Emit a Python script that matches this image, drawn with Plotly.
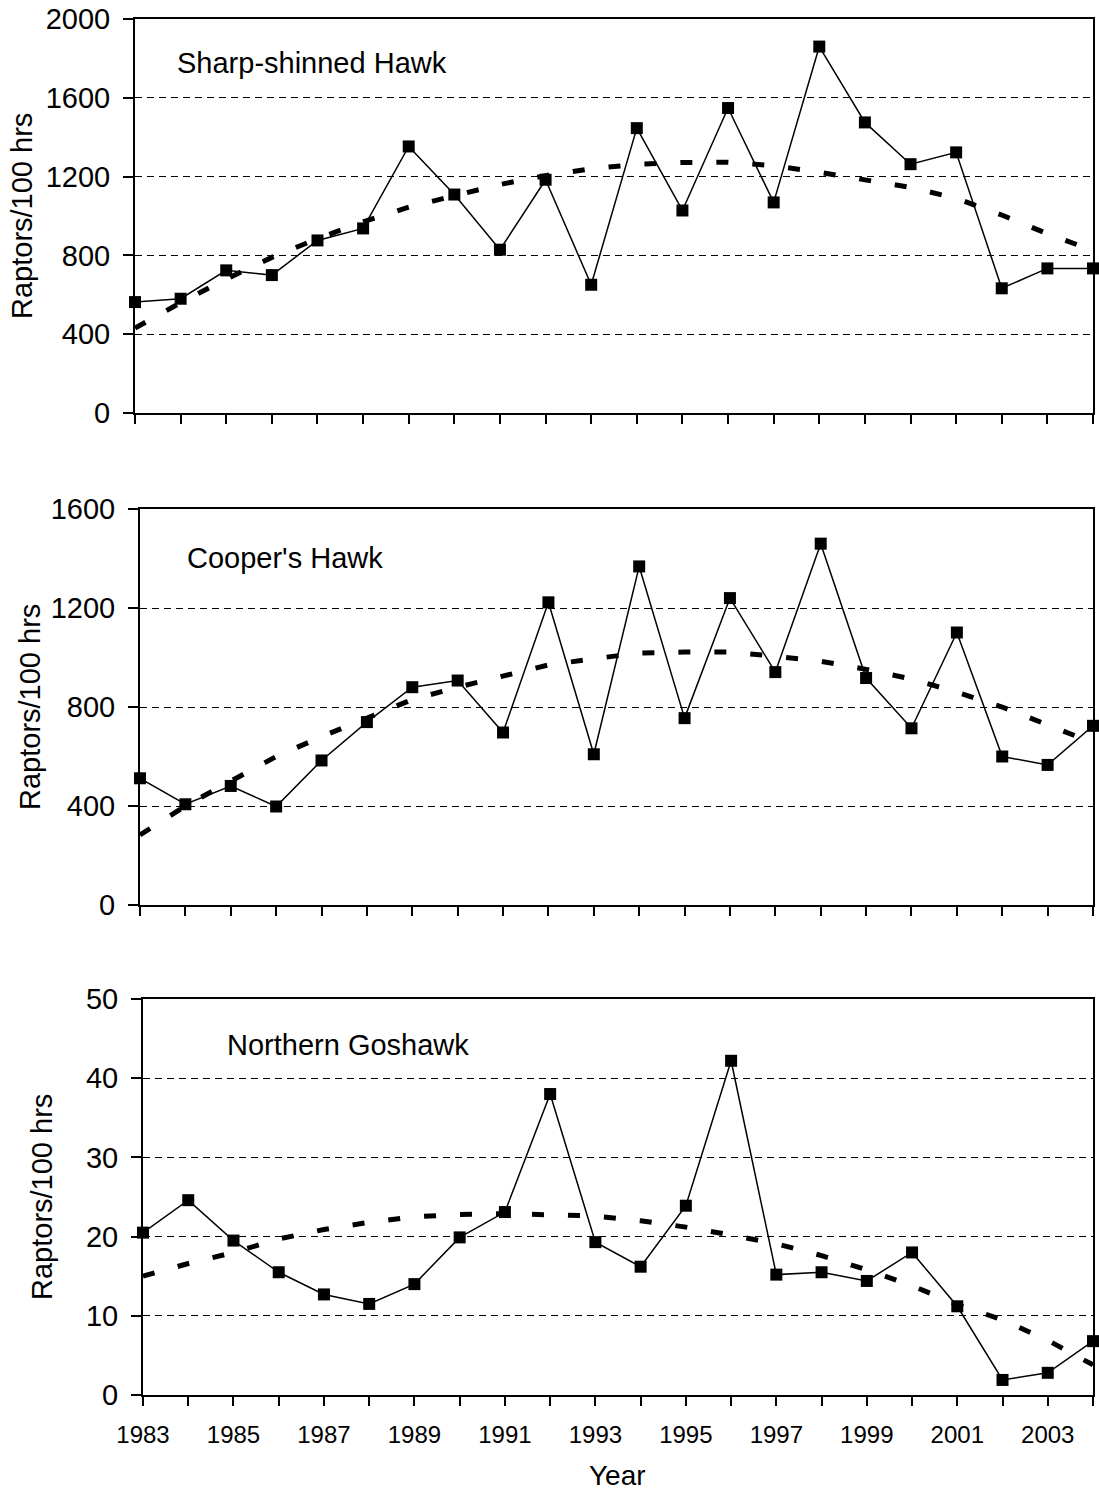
import plotly.graph_objects as go

years = list(range(1983, 2005))

sharp_obs = [563, 580, 724, 700, 876, 937, 1353, 1109, 829, 1184,
             651, 1446, 1028, 1548, 1069, 1860, 1475, 1263, 1323, 633, 734, 734]
sharp_trend = [431, 560, 680, 790, 885, 970, 1045, 1105, 1160, 1205, 1240,
               1262, 1272, 1273, 1255, 1222, 1185, 1145, 1090, 1005, 910, 825]

coop_obs = [512, 407, 481, 398, 584, 739, 880, 907, 697, 1223,
            609, 1368, 755, 1240, 941, 1460, 917, 714, 1101, 600, 566, 724]
coop_trend = [283, 400, 500, 600, 680, 755, 830, 880, 925, 970, 995,
              1018, 1022, 1022, 1005, 985, 952, 913, 860, 800, 728, 655]

gos_obs = [20.5, 24.6, 19.5, 15.5, 12.7, 11.5, 14.0, 19.9, 23.1, 38.0,
           19.3, 16.2, 23.9, 42.2, 15.2, 15.5, 14.4, 18.0, 11.2, 1.9, 2.8, 6.8]
gos_trend = [15.0, 16.6, 18.0, 19.7, 20.9, 21.8, 22.5, 22.8, 22.9, 22.8, 22.6,
             22.0, 21.2, 20.2, 19.1, 17.6, 15.8, 13.8, 11.4, 9.5, 6.9, 3.8]

species = ["Sharp-shinned Hawk", "Cooper's Hawk", "Northern Goshawk"]
y_max = [2000, 1600, 50]
y_step = [400, 400, 10]
y_title = "Raptors/100 hrs"
x_title = "Year"

W, H = 1099, 1494
FONT = "Liberation Sans, Arial, sans-serif"

# pixel boxes (left, right, top, bottom)
boxes = [(135, 1093, 19, 413), (140, 1093, 509, 905), (143, 1093, 999, 1395)]
label_pos = [(175, 63), (185, 558), (225, 1045)]
ytitle_x = [22, 30, 42]

fig = go.Figure()
obs_all = [sharp_obs, coop_obs, gos_obs]
trend_all = [sharp_trend, coop_trend, gos_trend]

for i in range(3):
    xa = "x" if i == 0 else f"x{i+1}"
    ya = "y" if i == 0 else f"y{i+1}"
    fig.add_trace(go.Scatter(
        x=years, y=trend_all[i], mode="lines", xaxis=xa, yaxis=ya,
        line=dict(color="black", width=5, dash="12px,24px"),
        showlegend=False, cliponaxis=False, hoverinfo="skip"))
    fig.add_trace(go.Scatter(
        x=years, y=obs_all[i], mode="lines+markers", xaxis=xa, yaxis=ya,
        line=dict(color="black", width=1.5),
        marker=dict(symbol="square", size=12, color="black"),
        showlegend=False, cliponaxis=False))

layout = dict(
    width=W, height=H, margin=dict(l=0, r=0, t=0, b=0, autoexpand=False),
    paper_bgcolor="white", plot_bgcolor="white",
    font=dict(family=FONT, color="black"),
    annotations=[],
)

for i in range(3):
    l, r, t, b = boxes[i]
    xkey = "xaxis" if i == 0 else f"xaxis{i+1}"
    ykey = "yaxis" if i == 0 else f"yaxis{i+1}"
    yanchor_name = "y" if i == 0 else f"y{i+1}"
    xanchor_name = "x" if i == 0 else f"x{i+1}"
    ticktext = [str(yv) if (yv - 1983) % 2 == 0 else "" for yv in years]
    layout[xkey] = dict(
        domain=[l / W, r / W], anchor=yanchor_name, automargin=False,
        range=[1983, 2004], tickmode="array", tickvals=years,
        ticktext=ticktext, showticklabels=(i == 2),
        ticks="outside", ticklen=9, tickwidth=1.5, tickcolor="black",
        ticklabelstandoff=8,
        showline=True, linecolor="black", linewidth=2, mirror=True,
        showgrid=False, zeroline=False,
        tickfont=dict(size=24, family=FONT, color="black"),
    )
    layout[ykey] = dict(
        domain=[1 - b / H, 1 - t / H], anchor=xanchor_name, automargin=False,
        range=[0, y_max[i]], dtick=y_step[i], tick0=0,
        ticks="outside", ticklen=10, tickwidth=1.5, tickcolor="black",
        ticklabelstandoff=7,
        showline=True, linecolor="black", linewidth=2, mirror=True,
        showgrid=True, gridcolor="black", gridwidth=1, griddash="7px,5px",
        zeroline=False,
        tickfont=dict(size=29, family=FONT, color="black"),
    )
    lx, ly = label_pos[i]
    layout["annotations"].append(dict(
        text=species[i], xref="paper", yref="paper", x=lx / W, y=1 - ly / H,
        xanchor="left", yanchor="middle", showarrow=False,
        font=dict(size=29, family=FONT, color="black")))
    layout["annotations"].append(dict(
        text=y_title, xref="paper", yref="paper", x=ytitle_x[i] / W,
        y=1 - ((t + b) / 2) / H, textangle=-90,
        xanchor="center", yanchor="middle", showarrow=False,
        font=dict(size=29, family=FONT, color="black")))

layout["annotations"].append(dict(
    text=x_title, xref="paper", yref="paper", x=617 / W, y=1 - 1475 / H,
    xanchor="center", yanchor="middle", showarrow=False,
    font=dict(size=28, family=FONT, color="black")))

fig.update_layout(**layout)
fig.write_html("out.html")
